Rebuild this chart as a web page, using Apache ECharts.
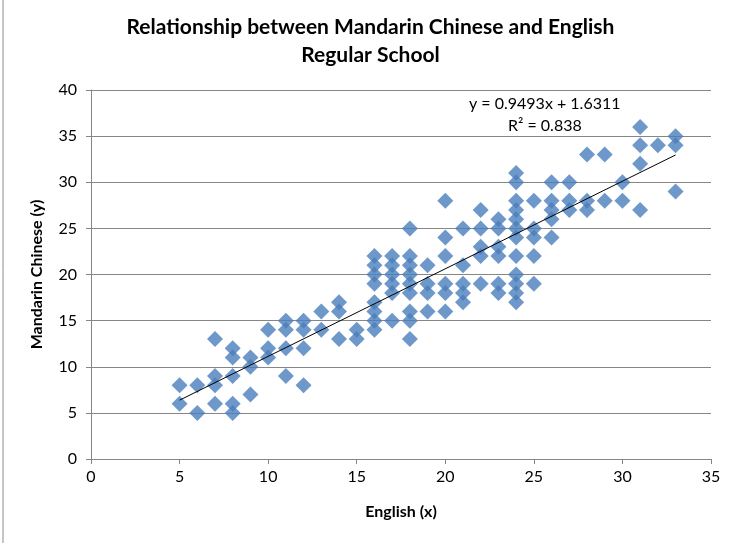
<!DOCTYPE html>
<html>
  <head>
      <meta charset="utf-8">
      <script src="https://cdn.jsdelivr.net/npm/echarts@6/dist/echarts.min.js"></script>
  </head>
<body style="margin:0;background:#fff;">
    <div id="main" style="width: 741px;height:543px;"></div>
    <script type="text/javascript">
        // english score (x) -> list of mandarin scores (y)
        var englishScores = [5, 6, 7, 8, 9, 10, 11, 12, 13, 14, 15, 16, 17, 18, 19, 20, 21, 22, 23, 24, 25, 26, 27, 28, 29, 30, 31, 32, 33];
        var mandarinScores = [
            [8, 6],
            [8, 5],
            [13, 9, 8, 6],
            [12, 11, 9, 6, 5],
            [11, 10, 7],
            [14, 12, 11],
            [15, 14, 12, 9],
            [15, 14, 12, 8],
            [16, 14],
            [17, 16, 13],
            [14, 13],
            [22, 21, 20, 19, 17, 16, 15, 14],
            [22, 21, 20, 19, 18, 15],
            [25, 22, 21, 20, 19, 18, 16, 15, 13],
            [21, 19, 18, 16],
            [28, 24, 22, 19, 18, 16],
            [25, 21, 19, 18, 17],
            [27, 25, 23, 22, 19],
            [26, 25, 23, 22, 19, 18],
            [31, 30, 28, 27, 26, 25, 24, 22, 20, 19, 18, 17],
            [28, 25, 24, 22, 19],
            [30, 28, 27, 26, 24],
            [30, 28, 27],
            [33, 28, 27],
            [33, 28],
            [30, 28],
            [36, 34, 32, 27],
            [34],
            [35, 34, 29]
        ];
        var trendSlope = 0.9493;
        var trendIntercept = 1.6311;
        var trendLabel = 'y = 0.9493x + 1.6311';
        var r2Label = 'R² = 0.838';

        var points = [];
        englishScores.forEach(function (x, i) {
            mandarinScores[i].forEach(function (y) { points.push([x, y]); });
        });
        var xLo = englishScores[0], xHi = englishScores[englishScores.length - 1];
        var trend = [[xLo, trendSlope * xLo + trendIntercept], [xHi, trendSlope * xHi + trendIntercept]];

        var font = 'Lato, "Open Sans", sans-serif';
        var myChart = echarts.init(document.getElementById('main'));
      	myChart.setOption({
            animation: false,
            title: {
                text: 'Relationship between Mandarin Chinese and English\nRegular School',
                left: 'center',
                top: 8,
                textStyle: {
                    fontFamily: font,
                    fontSize: 21,
                    fontWeight: 'bold',
                    color: '#000',
                    lineHeight: 28
                }
            },
            grid: {
                left: 91,
                right: 30,
                top: 90,
                bottom: 84
            },
            xAxis: {
                type: 'value',
                min: 0,
                max: 35,
                interval: 5,
                name: 'English (x)',
                nameLocation: 'middle',
                nameGap: 45,
                nameTextStyle: { fontFamily: font, fontSize: 16, fontWeight: 'bold', color: '#000' },
                axisLine: { lineStyle: { color: '#868686' } },
                axisTick: { show: true, length: 5, lineStyle: { color: '#868686' } },
                axisLabel: { fontFamily: font, fontSize: 16, color: '#000', margin: 10 },
                splitLine: { show: false }
            },
            yAxis: {
                type: 'value',
                min: 0,
                max: 40,
                interval: 5,
                name: 'Mandarin Chinese (y)',
                nameLocation: 'middle',
                nameGap: 46,
                nameTextStyle: { fontFamily: font, fontSize: 16, fontWeight: 'bold', color: '#000' },
                axisLine: { show: true, lineStyle: { color: '#868686' } },
                axisTick: { show: true, length: 5, lineStyle: { color: '#868686' } },
                axisLabel: { fontFamily: font, fontSize: 16, color: '#000', margin: 14 },
                splitLine: { lineStyle: { color: '#868686' } }
            },
            graphic: [
                { type: 'line', shape: { x1: 3, y1: 0, x2: 3, y2: 543 }, style: { stroke: '#8c8c8c', lineWidth: 1 } },
                { type: 'text', left: 469, top: 96, style: { text: trendLabel, fontFamily: font, fontSize: 16, fill: '#000' } },
                { type: 'text', left: 508, top: 118, style: { text: r2Label, fontFamily: font, fontSize: 16, fill: '#000' } }
            ],
            series: [
                {
                    type: 'scatter',
                    symbol: 'diamond',
                    symbolSize: 16,
                    itemStyle: { color: '#4a7ebb' },
                    data: points
                }, {
                    type: 'line',
                    symbol: 'none',
                    lineStyle: { color: '#000', width: 1 },
                    data: trend
                }
            ]
        });
    </script>
</body>
</html>
